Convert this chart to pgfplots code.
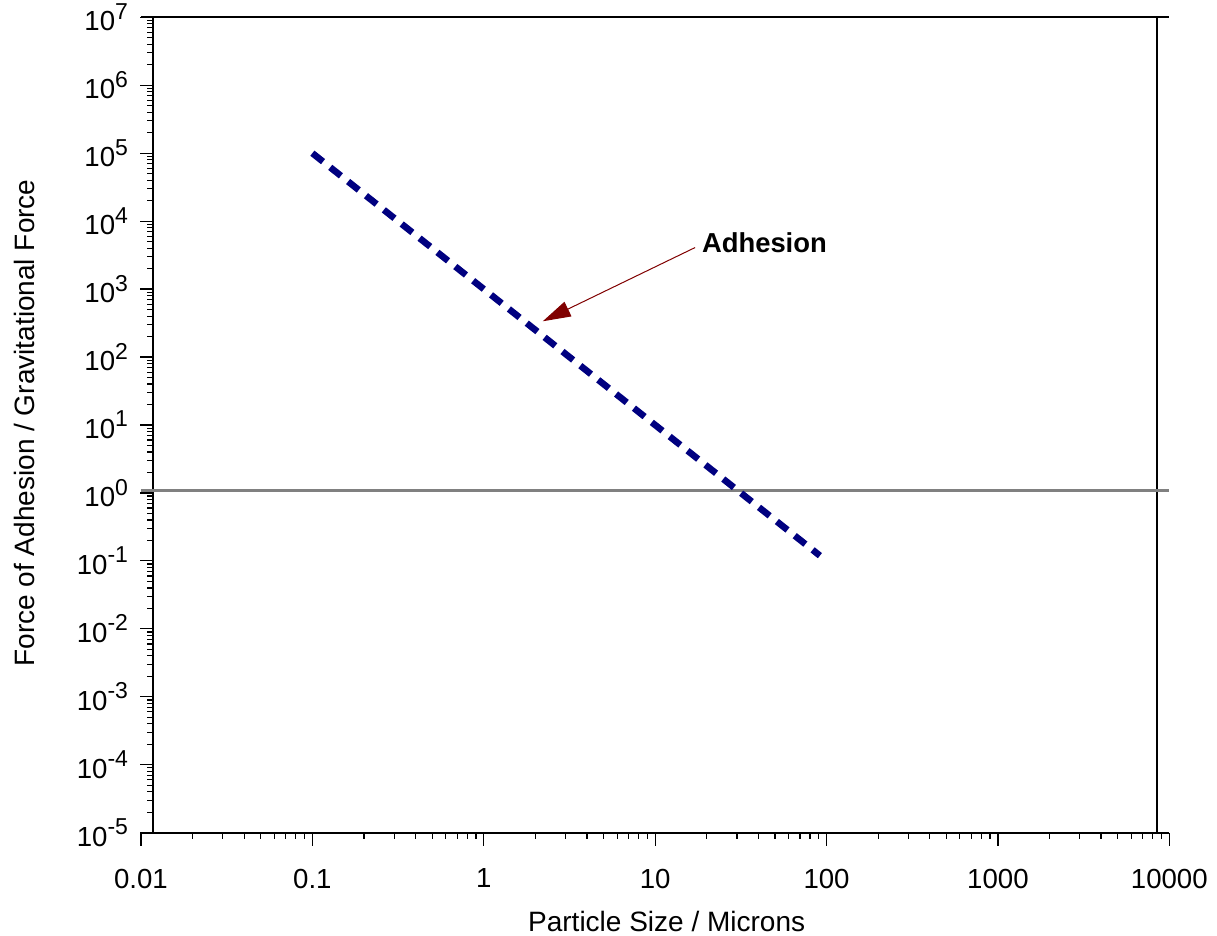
\documentclass[border=0pt]{standalone}
\usepackage{pgfplots}
\pgfplotsset{compat=1.18}
\usepackage{fontspec}
\setmainfont{Liberation Sans}
\usetikzlibrary{arrows.meta}
\definecolor{navy}{RGB}{0,0,128}
\definecolor{darkred}{RGB}{128,0,0}
\definecolor{refgray}{RGB}{128,128,128}
\newcommand{\tp}[1]{10\raisebox{5.8pt}{\fontsize{11.5}{11.5}\selectfont #1}}
\pgfplotstableread{
x y
0.1 100000
1 1000
10 10
91.5 0.1194
}\adhesion
\begin{document}
\begin{tikzpicture}
\begin{axis}[
 scale only axis, width=514.15pt, height=407.7pt,
 xmode=log, ymode=log,
 xmin=0.01, xmax=10000, ymin=1e-5, ymax=1e7,
 axis x line=bottom, axis y line=left,
 axis y line shift=-6pt,
 axis line style={-, line width=1pt, black},
 tick align=outside,
 major tick length=6.5pt, minor tick length=3pt,
 every tick/.style={black, line width=0.6pt},
 xtick={0.01,0.1,1,10,100,1000,10000},
 xticklabels={0.01,0.1,1,10,100,1000,10000},
 minor xtick={0.02,0.03,0.04,0.05,0.06,0.07,0.08,0.09,
   0.2,0.3,0.4,0.5,0.6,0.7,0.8,0.9,
   2,3,4,5,6,7,8,9,20,30,40,50,60,70,80,90,
   200,300,400,500,600,700,800,900,2000,3000,4000,5000,6000,7000,8000,9000},
 ytick={1e-5,1e-4,1e-3,1e-2,1e-1,1,10,100,1000,1e4,1e5,1e6,1e7},
 yticklabels={\tp{-5},\tp{-4},\tp{-3},\tp{-2},\tp{-1},\tp{0},\tp{1},\tp{2},\tp{3},\tp{4},\tp{5},\tp{6},\tp{7}},
 minor ytick={2e-5,3e-5,4e-5,5e-5,6e-5,7e-5,8e-5,9e-5,
   2e-4,3e-4,4e-4,5e-4,6e-4,7e-4,8e-4,9e-4,
   2e-3,3e-3,4e-3,5e-3,6e-3,7e-3,8e-3,9e-3,
   2e-2,3e-2,4e-2,5e-2,6e-2,7e-2,8e-2,9e-2,
   2e-1,3e-1,4e-1,5e-1,6e-1,7e-1,8e-1,9e-1,
   2e0,3e0,4e0,5e0,6e0,7e0,8e0,9e0,
   2e1,3e1,4e1,5e1,6e1,7e1,8e1,9e1,
   2e2,3e2,4e2,5e2,6e2,7e2,8e2,9e2,
   2e3,3e3,4e3,5e3,6e3,7e3,8e3,9e3,
   2e4,3e4,4e4,5e4,6e4,7e4,8e4,9e4,
   2e5,3e5,4e5,5e5,6e5,7e5,8e5,9e5,
   2e6,3e6,4e6,5e6,6e6,7e6,8e6,9e6},
 xticklabel style={font=\fontsize{13.8}{16}\selectfont, yshift=-8pt},
 yticklabel style={font=\fontsize{13.8}{16}\selectfont, xshift=-2.5pt},
 clip=false,
]
\coordinate (sw) at (rel axis cs:0,0);
\draw[black, line width=1.2pt] (axis cs:0.01,1e7) -- (axis cs:10000,1e7);
\draw[black, line width=1pt] (axis cs:8500,1e-5) -- (axis cs:8500,1e7);
\addplot[refgray, line width=1.5pt] coordinates {(0.01,1.07) (10000,1.07)};
\addplot[navy, line width=3.3pt, dash pattern=on 6.8pt off 4.6pt] table[x=x,y=y] {\adhesion};
\draw[darkred, line width=0.5pt, -{Triangle[length=14pt,width=8pt]}] (axis cs:17.1,4085) -- (axis cs:2.21,336);
\node[anchor=base west, inner sep=0pt, font=\bfseries\fontsize{13.7}{16}\selectfont] at (axis cs:18.67,3446) {Adhesion};
\node[anchor=base, inner sep=0pt, font=\fontsize{14}{17}\selectfont] at ([xshift=5.75pt, yshift=-49.65pt]axis description cs:0.5,0) {Particle Size / Microns};
\node[rotate=90, anchor=base, inner sep=0pt, font=\fontsize{14}{17}\selectfont] at ([xshift=-53pt, yshift=1pt]axis description cs:0,0.5) {Force of Adhesion / Gravitational Force};
\end{axis}
\pgfresetboundingbox
\path ([xshift=-70.5pt, yshift=-51.65pt]sw) rectangle ([xshift=538pt, yshift=416.35pt]sw);
\end{tikzpicture}
\end{document}
